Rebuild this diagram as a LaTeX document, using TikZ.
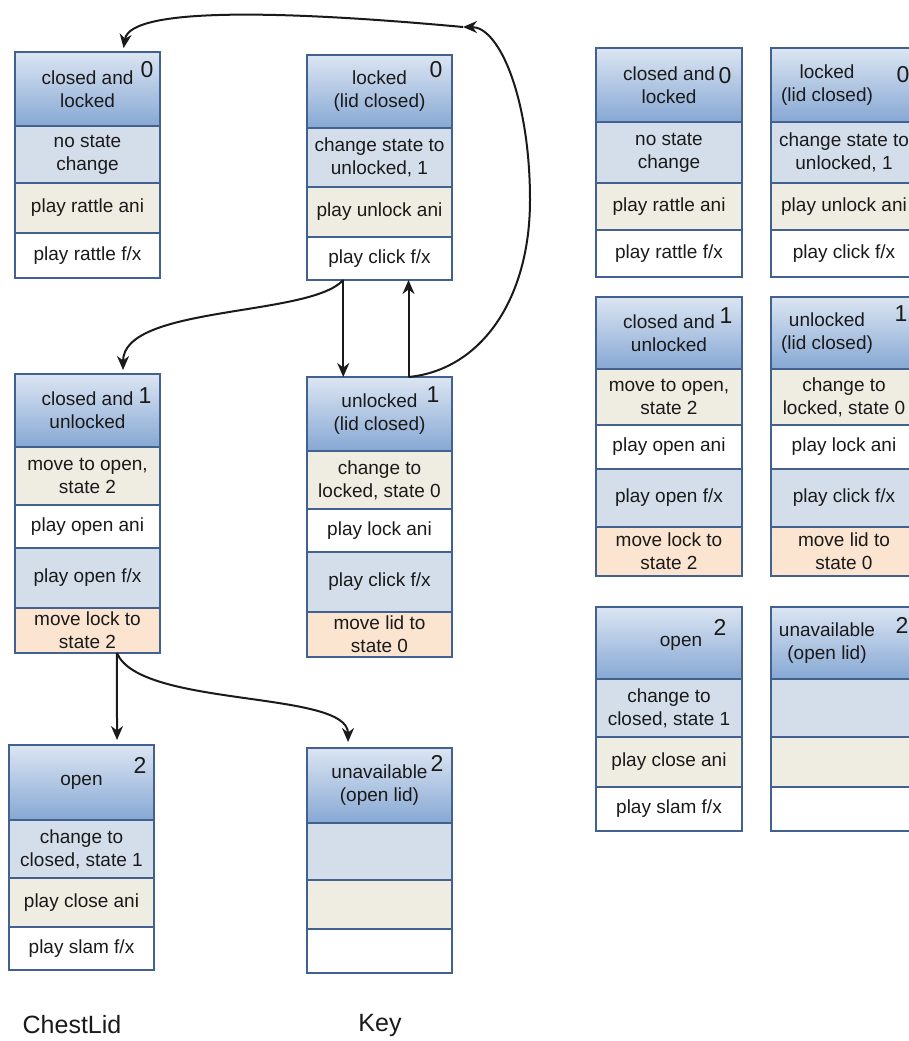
\documentclass[tikz,border=0pt]{standalone}
\usepackage{fontspec}
\setmainfont{Liberation Sans}
\usetikzlibrary{arrows.meta,calc}
\definecolor{bord}{HTML}{42618F}
\definecolor{hdrT}{HTML}{DCE5F2}
\definecolor{hdrB}{HTML}{86A8D4}
\definecolor{rblue}{HTML}{D4DEEB}
\definecolor{rbeige}{HTML}{EFECE2}
\definecolor{rpeach}{HTML}{FBE4D0}
\definecolor{ink}{HTML}{1A1A1A}
\begin{document}
\begin{tikzpicture}[x=1pt,y=-1pt,
 cell/.style={draw=bord, line width=1.5pt, anchor=north west, inner sep=0pt, outer sep=0pt, align=center, text=ink, font=\fontsize{19}{23}\selectfont},
 hdr/.style={cell, top color=hdrT, bottom color=hdrB},
 cb/.style={cell, fill=rblue},
 ce/.style={cell, fill=rbeige},
 cw/.style={cell, fill=white},
 cp/.style={cell, fill=rpeach},
 wa/.style={minimum width=145pt},
 wb/.style={minimum width=146pt},
 htext/.style={align=center, text=ink, font=\fontsize{19}{23}\selectfont, inner sep=0pt},
 num/.style={font=\fontsize{23}{23}\selectfont, text=ink, inner sep=0pt},
 arr/.style={draw=ink, line width=2pt, -{Stealth[length=14pt,width=12pt]}},
 lbl/.style={font=\fontsize{25}{25}\selectfont, text=ink, inner sep=0pt}]
\useasboundingbox (0,0) rectangle (909,1041);
\fill[white] (0,0) rectangle (909,1041);
\clip (0,0) rectangle (909,1041);

% ---------- ChestLid column ----------
\node[hdr,wa,minimum height=74pt] (A0) at (15,52) {closed and\\locked};
\node[cb,wa,minimum height=57pt] (A1) at (A0.south west) {no state\\change};
\node[ce,wa,minimum height=50pt] (A2) at (A1.south west) {play rattle ani};
\node[cw,wa,minimum height=45pt] (A3) at (A2.south west) {play rattle f/x};
\node[num] (An) at (147,70) {0};

\node[hdr,wa,minimum height=73pt] (C0) at (15,374) {closed and\\unlocked};
\node[ce,wa,minimum height=58pt] (C1) at (C0.south west) {move to open,\\state 2};
\node[cw,wa,minimum height=43pt] (C2) at (C1.south west) {play open ani};
\node[cb,wa,minimum height=60pt] (C3) at (C2.south west) {play open f/x};
\node[cp,wa,minimum height=45pt] (C4) at (C3.south west) {move lock to\\state 2};
\node[num] (Cn) at (145,396) {1};

\node[hdr,wa,minimum height=75pt] (E0) at (9,745) {open};
\node[cb,wa,minimum height=58pt] (E1) at (E0.south west) {change to\\closed, state 1};
\node[ce,wa,minimum height=49pt] (E2) at (E1.south west) {play close ani};
\node[cw,wa,minimum height=43pt] (E3) at (E2.south west) {play slam f/x};
\node[num] (En) at (140,765) {2};

% ---------- Key column ----------
\node[hdr,wa,minimum height=73pt] (B0) at (307,55) {locked\\(lid closed)};
\node[cb,wa,minimum height=59pt] (B1) at (B0.south west) {change state to\\unlocked, 1};
\node[ce,wa,minimum height=50pt] (B2) at (B1.south west) {play unlock ani};
\node[cw,wa,minimum height=43pt] (B3) at (B2.south west) {play click f/x};
\node[num] (Bn) at (436,70) {0};

\node[hdr,wa,minimum height=74pt] (D0) at (307,377) {unlocked\\(lid closed)};
\node[ce,wa,minimum height=58pt] (D1) at (D0.south west) {change to\\locked, state 0};
\node[cw,wa,minimum height=43pt] (D2) at (D1.south west) {play lock ani};
\node[cb,wa,minimum height=60pt] (D3) at (D2.south west) {play click f/x};
\node[cp,wa,minimum height=45pt] (D4) at (D3.south west) {move lid to\\state 0};
\node[num] (Dn) at (433,395) {1};

\node[hdr,wa,minimum height=75pt] (F0) at (307,748) {unavailable\\(open lid)};
\node[cb,wa,minimum height=57pt] (F1) at (F0.south west) {};
\node[ce,wa,minimum height=49pt] (F2) at (F1.south west) {};
\node[cw,wa,minimum height=44pt] (F3) at (F2.south west) {};
\node[num] (Fn) at (437,763) {2};

\node[lbl] (chest) at (72,1025) {ChestLid};
\node[lbl] (key) at (380,1025) {Key};

% ---------- right copy ----------
\node[hdr,wb,minimum height=74pt] (G0) at (596,48) {closed and\\locked};
\node[cb,wb,minimum height=61pt] (G1) at (G0.south west) {no state\\change};
\node[ce,wb,minimum height=47pt] (G2) at (G1.south west) {play rattle ani};
\node[cw,wb,minimum height=47pt] (G3) at (G2.south west) {play rattle f/x};
\node[num] (Gn) at (725,76) {0};

\node[hdr,wb,minimum height=74pt] (H0) at (771,48) {};
\node[htext] (Ht) at ([xshift=-17pt]H0.center) {locked\\(lid closed)};
\node[cb,wb,minimum height=61pt] (H1) at (H0.south west) {change state to\\unlocked, 1};
\node[ce,wb,minimum height=47pt] (H2) at (H1.south west) {play unlock ani};
\node[cw,wb,minimum height=47pt] (H3) at (H2.south west) {play click f/x};
\node[num] (Hn) at (903,75) {0};

\node[hdr,wb,minimum height=72pt] (I0) at (596,297) {closed and\\unlocked};
\node[ce,wb,minimum height=56pt] (I1) at (I0.south west) {move to open,\\state 2};
\node[cw,wb,minimum height=44pt] (I2) at (I1.south west) {play open ani};
\node[cb,wb,minimum height=58pt] (I3) at (I2.south west) {play open f/x};
\node[cp,wb,minimum height=49pt] (I4) at (I3.south west) {move lock to\\state 2};
\node[num] (In) at (726,316) {1};

\node[hdr,wb,minimum height=72pt] (J0) at (771,297) {};
\node[htext] (Jt) at ([xshift=-17pt]J0.center) {unlocked\\(lid closed)};
\node[ce,wb,minimum height=56pt] (J1) at (J0.south west) {change to\\locked, state 0};
\node[cw,wb,minimum height=44pt] (J2) at (J1.south west) {play lock ani};
\node[cb,wb,minimum height=58pt] (J3) at (J2.south west) {play click f/x};
\node[cp,wb,minimum height=49pt] (J4) at (J3.south west) {move lid to\\state 0};
\node[num] (Jn) at (901,314) {1};

\node[hdr,wb,minimum height=72pt] (K0) at (596,607) {};
\node[htext] (Kt) at ([xshift=12pt]K0.center) {open};
\node[cb,wb,minimum height=58pt] (K1) at (K0.south west) {change to\\closed, state 1};
\node[ce,wb,minimum height=50pt] (K2) at (K1.south west) {play close ani};
\node[cw,wb,minimum height=44pt] (K3) at (K2.south west) {play slam f/x};
\node[num] (Kn) at (720,627) {2};

\node[hdr,wb,minimum height=72pt] (L0) at (771,607) {};
\node[htext] (Lt) at ([xshift=-17pt]L0.center) {unavailable\\(open lid)};
\node[cb,wb,minimum height=58pt] (L1) at (L0.south west) {};
\node[ce,wb,minimum height=50pt] (L2) at (L1.south west) {};
\node[cw,wb,minimum height=44pt] (L3) at (L2.south west) {};
\node[num] (Ln) at (902,625) {2};

% ---------- connectors ----------
\coordinate (M) at (463,27);
\coordinate (R) at (530,200);
\draw[arr] ($(B3.south west)!.25!(B3.south east)$) -- ($(D0.north west)!.25!(D0.north east)$);
\draw[arr] ($(D0.north west)!.7!(D0.north east)$) -- ($(B3.south west)!.7!(B3.south east)$);
\draw[arr,shorten >=4pt] ($(B3.south west)!.25!(B3.south east)$) .. controls +(-33,37) and +(0,-69) .. ($(C0.north west)!.745!(C0.north east)$);
\draw[arr] ($(D0.north west)!.7!(D0.north east)$) .. controls +(72,-7) and +(0,100) .. (R) .. controls +(0,-100) and +(37,0) .. (M);
\draw[arr,shorten >=4pt] (M) .. controls (300,12) and (130,5) .. ($(A0.north west)!.745!(A0.north east)$);
\draw[arr,shorten >=5pt] ($(C4.south west)!.703!(C4.south east)$) -- ($(E0.north west)!.745!(E0.north east)$);
\draw[arr,shorten >=6pt] ($(C4.south west)!.703!(C4.south east)$) .. controls +(23,55) and +(0,-58) .. ($(F0.north west)!.283!(F0.north east)$);
\end{tikzpicture}
\end{document}
